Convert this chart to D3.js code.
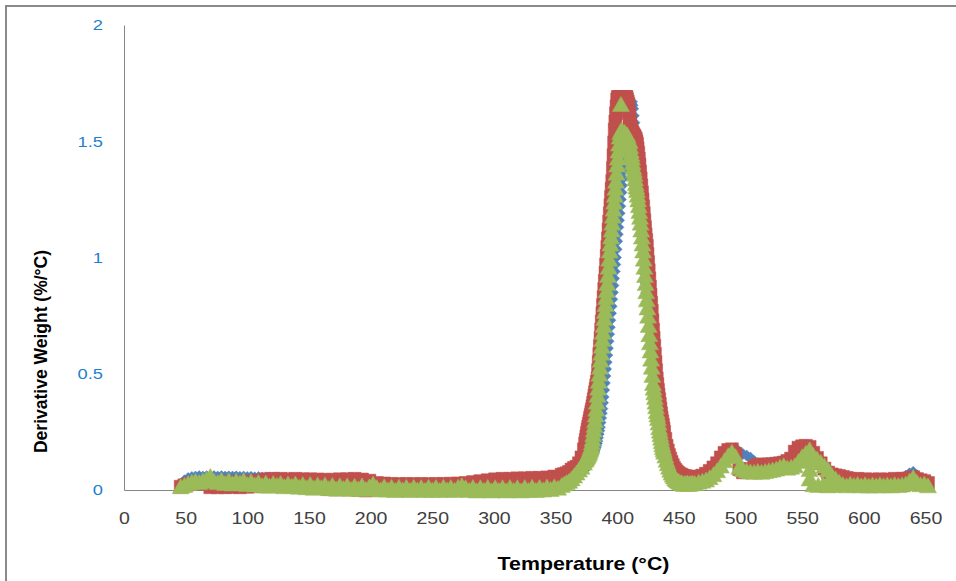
<!DOCTYPE html>
<html>
<head>
<meta charset="utf-8">
<script src="https://cdn.jsdelivr.net/npm/d3@7"></script>
<style>
  body { margin: 0; background: #fff; }
  svg { display: block; }
</style>
</head>
<body>
<div id="chart"></div>
<script>

// temperatures (degC) the three runs were read at
var temps = [
  // 46 - 355
  46, 49, 52, 55, 58, 61, 64, 67, 70, 73,
  76, 79, 82, 85, 88, 91, 94, 97, 100, 103,
  106, 109, 112, 115, 118, 121, 124, 127, 130, 133,
  136, 139, 142, 145, 148, 151, 154, 157, 160, 163,
  166, 169, 172, 175, 178, 181, 184, 187, 190, 193,
  196, 199, 202, 205, 208, 211, 214, 217, 220, 223,
  226, 229, 232, 235, 238, 241, 244, 247, 250, 253,
  256, 259, 262, 265, 268, 271, 274, 277, 280, 283,
  286, 289, 292, 295, 298, 301, 304, 307, 310, 313,
  316, 319, 322, 325, 328, 331, 334, 337, 340, 343,
  346, 349, 352, 355,
  // 357 - 373
  357, 359, 361, 363, 365, 367, 369, 371, 373,
  // main peak
  374, 374.5, 375, 375.5, 376, 376.5, 377, 377.5, 378, 378.5,
  379, 379.5, 380, 380.5, 381, 381.5, 382, 382.5, 383, 383.5,
  384, 384.5, 385, 385.5, 386, 386.5, 387, 387.5, 388, 388.5,
  389, 389.5, 390, 390.5, 391, 391.5, 392, 392.5, 393, 393.5,
  394, 394.5, 395, 395.5, 396, 396.5, 397, 397.5, 398, 398.5,
  399, 399.5, 400, 400.5, 401, 401.5, 402, 402.5, 403, 403.5,
  404, 404.5, 405, 405.5, 406, 406.5, 407, 407.5, 408, 408.5,
  409, 409.5, 410, 410.5, 411, 411.5, 412, 412.5, 413, 413.5,
  414, 414.5, 415, 415.5, 416, 416.5, 417, 417.5, 418, 418.5,
  419, 419.5, 420, 420.5, 421, 421.5, 422, 422.5, 423, 423.5,
  424, 424.5, 425, 425.5, 426, 426.5, 427, 427.5, 428, 428.5,
  429, 429.5, 430, 430.5, 431, 431.5, 432, 432.5, 433, 433.5,
  434, 434.5, 435, 435.5, 436, 436.5, 437, 437.5, 438,
  // 439 - 461
  439, 440, 441, 442, 443, 444, 445, 446, 447, 448,
  449, 450, 451, 452, 453, 454, 455, 456, 457, 458,
  459, 460, 461,
  // 463 - 652
  463, 466, 469, 472, 475, 478, 481, 484, 487, 490,
  493, 496, 499, 502, 505, 508, 511, 514, 517, 520,
  523, 526, 529, 532, 535, 538, 541, 544, 547, 550,
  553, 556, 559, 562, 565, 568, 571, 574, 577, 580,
  583, 586, 589, 592, 595, 598, 601, 604, 607, 610,
  613, 616, 619, 622, 625, 628, 631, 634, 637, 640,
  643, 646, 649, 652
];

// derivative weight (%/degC), run 1 (blue diamonds)
var blueDW = [
  0.028, 0.042, 0.052, 0.056, 0.058, 0.060, 0.058, 0.060, 0.058, 0.060,
  0.058, 0.060, 0.058, 0.059, 0.058, 0.059, 0.057, 0.058, 0.056, 0.057,
  0.055, 0.056, 0.054, 0.055, 0.054, 0.054, 0.052, 0.048, 0.046, 0.045,
  0.044, 0.043, 0.042, 0.041, 0.040, 0.040, 0.039, 0.038, 0.037, 0.036,
  0.035, 0.035, 0.034, 0.033, 0.032, 0.032, 0.031, 0.030, 0.030, 0.029,
  0.028, 0.027, 0.026, 0.025, 0.024, 0.023, 0.022, 0.022, 0.021, 0.020,
  0.020, 0.020, 0.020, 0.020, 0.020, 0.020, 0.020, 0.020, 0.020, 0.020,
  0.020, 0.020, 0.020, 0.020, 0.020, 0.020, 0.020, 0.021, 0.022, 0.023,
  0.024, 0.025, 0.026, 0.027, 0.028, 0.029, 0.030, 0.030, 0.031, 0.032,
  0.032, 0.033, 0.034, 0.035, 0.035, 0.036, 0.037, 0.038, 0.039, 0.040,
  0.041, 0.042, 0.044, 0.046,
  0.046, 0.046, 0.048, 0.050, 0.055, 0.060, 0.065, 0.075, 0.085,
  0.090, 0.095, 0.100, 0.105, 0.110, 0.115, 0.120, 0.125, 0.130, 0.135,
  0.140, 0.145, 0.150, 0.155, 0.160, 0.167, 0.175, 0.182, 0.190, 0.200,
  0.210, 0.225, 0.240, 0.255, 0.270, 0.290, 0.310, 0.330, 0.350, 0.375,
  0.400, 0.430, 0.460, 0.490, 0.520, 0.550, 0.580, 0.610, 0.640, 0.670,
  0.700, 0.730, 0.760, 0.790, 0.820, 0.850, 0.880, 0.910, 0.940, 0.970,
  1.000, 1.035, 1.070, 1.100, 1.130, 1.160, 1.190, 1.220, 1.250, 1.280,
  1.310, 1.340, 1.370, 1.400, 1.430, 1.460, 1.490, 1.515, 1.540, 1.560,
  1.580, 1.600, 1.620, 1.635, 1.650, 1.660, 1.670, 1.655, 1.640, 1.610,
  1.580, 1.550, 1.520, 1.485, 1.450, 1.410, 1.370, 1.330, 1.290, 1.250,
  1.210, 1.170, 1.130, 1.090, 1.050, 1.010, 0.970, 0.930, 0.890, 0.850,
  0.810, 0.770, 0.730, 0.690, 0.650, 0.615, 0.580, 0.545, 0.510, 0.480,
  0.450, 0.425, 0.400, 0.380, 0.360, 0.340, 0.320, 0.305, 0.290, 0.275,
  0.260, 0.245, 0.230, 0.220, 0.210, 0.200, 0.190, 0.180, 0.170,
  0.155, 0.140, 0.125, 0.110, 0.100, 0.090, 0.080, 0.070, 0.065, 0.060,
  0.055, 0.050, 0.047, 0.045, 0.042, 0.040, 0.040, 0.040, 0.040, 0.040,
  0.040, 0.040, 0.040,
  0.040, 0.042, 0.046, 0.050, 0.060, 0.072, 0.090, 0.110, 0.130, 0.155,
  0.172, 0.180, 0.165, 0.155, 0.148, 0.140, 0.125, 0.115, 0.108, 0.100,
  0.100, 0.100, 0.102, 0.104, 0.108, 0.115, 0.125, 0.140, 0.155, 0.170,
  0.175, 0.170, 0.148, 0.125, 0.105, 0.088, 0.070, 0.060, 0.054, 0.050,
  0.046, 0.045, 0.045, 0.045, 0.045, 0.045, 0.045, 0.045, 0.045, 0.045,
  0.045, 0.045, 0.045, 0.046, 0.048, 0.050, 0.055, 0.062, 0.072, 0.078,
  0.064, 0.045, 0.030, 0.020
];

// run 2 (red squares)
var redDW = [
  0.014, 0.020, 0.024, 0.028, 0.030, 0.030, 0.030, 0.028, 0.012, 0.030,
  0.012, 0.032, 0.012, 0.034, 0.013, 0.034, 0.012, 0.035, 0.014, 0.036,
  0.016, 0.040, 0.020, 0.046, 0.030, 0.048, 0.028, 0.048, 0.030, 0.046,
  0.026, 0.048, 0.025, 0.046, 0.030, 0.046, 0.028, 0.045, 0.022, 0.044,
  0.004, 0.044, 0.002, 0.046, 0.028, 0.046, 0.030, 0.048, 0.000, 0.045,
  -0.002, 0.040, 0.002, 0.030, 0.015, 0.028, 0.015, 0.026, 0.015, 0.025,
  0.015, 0.026, 0.015, 0.025, 0.015, 0.026, 0.015, 0.025, 0.015, 0.026,
  0.015, 0.026, 0.016, 0.027, 0.016, 0.028, 0.018, 0.030, 0.020, 0.034,
  0.022, 0.038, 0.025, 0.042, 0.028, 0.046, 0.030, 0.048, 0.032, 0.048,
  0.034, 0.050, 0.034, 0.050, 0.036, 0.052, 0.038, 0.052, 0.040, 0.054,
  0.045, 0.058, 0.055, 0.066,
  0.068, 0.072, 0.078, 0.088, 0.095, 0.100, 0.115, 0.140, 0.175,
  0.200, 0.215, 0.230, 0.245, 0.260, 0.272, 0.285, 0.297, 0.310, 0.322,
  0.335, 0.347, 0.360, 0.375, 0.390, 0.405, 0.420, 0.435, 0.450, 0.465,
  0.480, 0.515, 0.550, 0.585, 0.620, 0.655, 0.690, 0.725, 0.760, 0.795,
  0.830, 0.865, 0.900, 0.935, 0.970, 1.007, 1.045, 1.082, 1.120, 1.155,
  1.190, 1.225, 1.260, 1.295, 1.330, 1.385, 1.440, 1.495, 1.550, 1.585,
  1.620, 1.650, 1.680, 1.690, 1.690, 1.685, 1.680, 1.690, 1.680, 1.690,
  1.690, 1.685, 1.680, 1.690, 1.690, 1.685, 1.690, 1.690, 1.680, 1.670,
  1.660, 1.630, 1.600, 1.580, 1.560, 1.550, 1.540, 1.535, 1.530, 1.525,
  1.520, 1.515, 1.510, 1.500, 1.490, 1.470, 1.450, 1.425, 1.400, 1.370,
  1.340, 1.310, 1.280, 1.250, 1.220, 1.190, 1.160, 1.130, 1.100, 1.075,
  1.050, 1.015, 0.980, 0.945, 0.910, 0.875, 0.840, 0.805, 0.770, 0.730,
  0.690, 0.655, 0.620, 0.585, 0.550, 0.515, 0.480, 0.455, 0.430, 0.410,
  0.390, 0.370, 0.350, 0.330, 0.310, 0.295, 0.280, 0.265, 0.250,
  0.220, 0.190, 0.170, 0.150, 0.135, 0.120, 0.107, 0.095, 0.087, 0.080,
  0.075, 0.070, 0.067, 0.065, 0.062, 0.060, 0.059, 0.058, 0.056, 0.055,
  0.055, 0.055, 0.055,
  0.055, 0.058, 0.062, 0.070, 0.082, 0.097, 0.115, 0.140, 0.160, 0.172,
  0.175, 0.155, 0.090, 0.076, 0.080, 0.090, 0.100, 0.108, 0.110, 0.108,
  0.110, 0.111, 0.113, 0.115, 0.118, 0.125, 0.135, 0.165, 0.182, 0.188,
  0.190, 0.185, 0.160, 0.138, 0.115, 0.092, 0.075, 0.067, 0.063, 0.060,
  0.056, 0.052, 0.048, 0.045, 0.048, 0.042, 0.046, 0.042, 0.045, 0.040,
  0.046, 0.042, 0.045, 0.042, 0.048, 0.044, 0.048, 0.046, 0.050, 0.055,
  0.047, 0.042, 0.038, 0.030
];

// run 3 (green triangles)
var greenDW = [
  0.016, 0.022, 0.030, 0.036, 0.040, 0.034, 0.042, 0.048, 0.060, 0.040,
  0.034, 0.044, 0.030, 0.042, 0.028, 0.040, 0.032, 0.042, 0.026, 0.038,
  0.024, 0.034, 0.020, 0.032, 0.018, 0.030, 0.022, 0.030, 0.016, 0.028,
  0.018, 0.028, 0.014, 0.026, 0.012, 0.026, 0.010, 0.024, 0.012, 0.024,
  0.008, 0.022, 0.006, 0.020, 0.008, 0.020, 0.004, 0.018, 0.006, 0.020,
  0.004, 0.016, 0.028, 0.012, 0.002, 0.016, 0.002, 0.014, 0.000, 0.014,
  0.002, 0.014, 0.000, 0.014, 0.002, 0.013, 0.000, 0.014, 0.001, 0.013,
  0.000, 0.014, 0.002, 0.013, 0.000, 0.014, 0.020, 0.012, 0.000, 0.013,
  -0.002, 0.012, 0.000, 0.013, -0.002, 0.012, 0.000, 0.012, -0.002, 0.013,
  0.000, 0.012, -0.002, 0.013, 0.000, 0.014, 0.000, 0.013, 0.002, 0.015,
  0.004, 0.016, 0.010, 0.022,
  0.028, 0.034, 0.040, 0.050, 0.062, 0.075, 0.088, 0.100, 0.118,
  0.130, 0.135, 0.140, 0.145, 0.150, 0.155, 0.160, 0.167, 0.175, 0.182,
  0.190, 0.205, 0.220, 0.240, 0.260, 0.280, 0.300, 0.325, 0.350, 0.380,
  0.410, 0.440, 0.470, 0.500, 0.530, 0.560, 0.590, 0.620, 0.650, 0.680,
  0.710, 0.740, 0.770, 0.800, 0.830, 0.860, 0.890, 0.925, 0.960, 0.995,
  1.030, 1.060, 1.090, 1.120, 1.150, 1.180, 1.210, 1.240, 1.270, 1.300,
  1.330, 1.365, 1.400, 1.430, 1.460, 1.490, 1.520, 1.540, 1.660, 1.550,
  1.540, 1.535, 1.530, 1.535, 1.540, 1.530, 1.520, 1.525, 1.530, 1.520,
  1.510, 1.505, 1.500, 1.480, 1.460, 1.445, 1.430, 1.410, 1.390, 1.375,
  1.360, 1.340, 1.320, 1.305, 1.290, 1.270, 1.250, 1.225, 1.200, 1.175,
  1.150, 1.120, 1.090, 1.060, 1.030, 0.995, 0.960, 0.925, 0.890, 0.855,
  0.820, 0.785, 0.750, 0.710, 0.670, 0.635, 0.600, 0.565, 0.530, 0.495,
  0.460, 0.440, 0.420, 0.400, 0.380, 0.360, 0.340, 0.325, 0.310, 0.290,
  0.270, 0.255, 0.240, 0.225, 0.210, 0.197, 0.185, 0.175, 0.165,
  0.148, 0.130, 0.115, 0.100, 0.087, 0.075, 0.066, 0.058, 0.050, 0.045,
  0.041, 0.038, 0.034, 0.032, 0.030, 0.026, 0.031, 0.028, 0.032, 0.026,
  0.030, 0.028, 0.032,
  0.030, 0.036, 0.040, 0.045, 0.055, 0.068, 0.085, 0.105, 0.128, 0.150,
  0.165, 0.145, 0.100, 0.090, 0.084, 0.080, 0.078, 0.082, 0.078, 0.082,
  0.085, 0.088, 0.092, 0.100, 0.106, 0.096, 0.100, 0.106, 0.125, 0.145,
  0.160, 0.175, 0.150, 0.135, 0.120, 0.105, 0.088, 0.065, 0.050, 0.035,
  0.026, 0.020, 0.027, 0.022, 0.026, 0.020, 0.025, 0.019, 0.024, 0.020,
  0.025, 0.020, 0.024, 0.020, 0.025, 0.021, 0.024, 0.028, 0.040, 0.055,
  0.035, 0.025, 0.028, 0.020
];

// run 3: sudden drop near 556 degC (extra readings)
var dropT  = [556, 556, 556, 559, 563, 567, 571, 575];
var dropDW = [0.130, 0.090, 0.050, 0.025, 0.022, 0.025, 0.020, 0.022];

var xTicks = [0, 50, 100, 150, 200, 250, 300, 350, 400, 450, 500, 550, 600, 650];
var yTicks = [0, 0.5, 1, 1.5, 2];

var width = 956, height = 581;
var stretch = 1.22; // text in the picture is drawn wider than normal

var svg = d3.select("#chart").append("svg")
    .attr("width", width)
    .attr("height", height);

// chart frame
svg.append("rect")
    .attr("x", 6)
    .attr("y", 6)
    .attr("width", 970)
    .attr("height", 620)
    .attr("fill", "#fff")
    .attr("stroke", "#8a8a8a")
    .attr("stroke-width", 2);

var x = d3.scaleLinear().domain([0, 650]).range([124, 925.5]);
var y = d3.scaleLinear().domain([0, 2]).range([490, 25]);

// x axis
var gx = svg.append("g")
    .attr("transform", "translate(0," + y(0) + ")")
    .call(d3.axisBottom(x).tickValues(xTicks).tickSize(0).tickSizeOuter(0).tickFormat(d3.format("d")));
gx.attr("font-family", "'Liberation Sans', Arial, sans-serif").attr("font-size", 16);
gx.select(".domain").attr("stroke", "#868686");
gx.selectAll(".tick text")
    .attr("y", 34)
    .attr("dy", 0)
    .attr("fill", "#404040")
    .attr("transform", "scale(" + stretch + ",1)");

// y axis
var gy = svg.append("g")
    .attr("transform", "translate(" + x(0) + ",0)")
    .call(d3.axisLeft(y).tickValues(yTicks).tickSize(0).tickSizeOuter(0).tickFormat(d3.format("")));
gy.attr("font-family", "'Liberation Sans', Arial, sans-serif").attr("font-size", 15);
gy.select(".domain").attr("stroke", "#868686");
gy.selectAll(".tick text")
    .attr("x", -21 / stretch)
    .attr("fill", "#1f7fcf")
    .attr("transform", "scale(" + stretch + ",1)");

// axis titles
svg.append("text")
    .attr("transform", "translate(583.5,570) scale(" + stretch + ",1)")
    .attr("text-anchor", "middle")
    .attr("font-family", "'Liberation Sans', Arial, sans-serif")
    .attr("font-weight", "bold")
    .attr("font-size", 17.5)
    .attr("fill", "#000")
    .text("Temperature (°C)");

svg.append("text")
    .attr("transform", "translate(47,351.5) rotate(-90)")
    .attr("text-anchor", "middle")
    .attr("font-family", "'Liberation Sans', Arial, sans-serif")
    .attr("font-weight", "bold")
    .attr("font-size", 17.5)
    .attr("fill", "#000")
    .text("Derivative Weight (%/°C)");

// marker shapes
var diamond = "M0,-5.5L5.5,0L0,5.5L-5.5,0Z";
var square = "M-6.5,-6.5H6.5V6.5H-6.5Z";
var triangle = "M0,-7.5L8.5,7.5L-8.5,7.5Z";

var series = [
  { color: "#4f81bd", shape: diamond,  pts: temps.map(function (t, i) { return [t, blueDW[i]]; }) },
  { color: "#c0504d", shape: square,   pts: temps.map(function (t, i) { return [t, redDW[i]]; }) },
  { color: "#9bbb59", shape: triangle, pts: temps.map(function (t, i) { return [t, greenDW[i]]; })
      .concat(dropT.map(function (t, i) { return [t, dropDW[i]]; })) }
];

var groups = svg.selectAll(".series")
    .data(series)
    .enter()
    .append("g")
    .attr("class", "series");

groups.selectAll("path")
    .data(function (d) {
        return d.pts.filter(function (p) { return p[1] !== undefined; })
                    .map(function (p) { return { p: p, s: d }; });
    })
    .enter()
    .append("path")
    .attr("d", function (d) { return d.s.shape; })
    .attr("transform", function (d) { return "translate(" + x(d.p[0]) + "," + y(d.p[1]) + ")"; })
    .attr("fill", function (d) { return d.s.color; })
    .attr("stroke", function (d) { return d.s.color; })
    .attr("stroke-width", 0.5);

</script>
</body>
</html>
